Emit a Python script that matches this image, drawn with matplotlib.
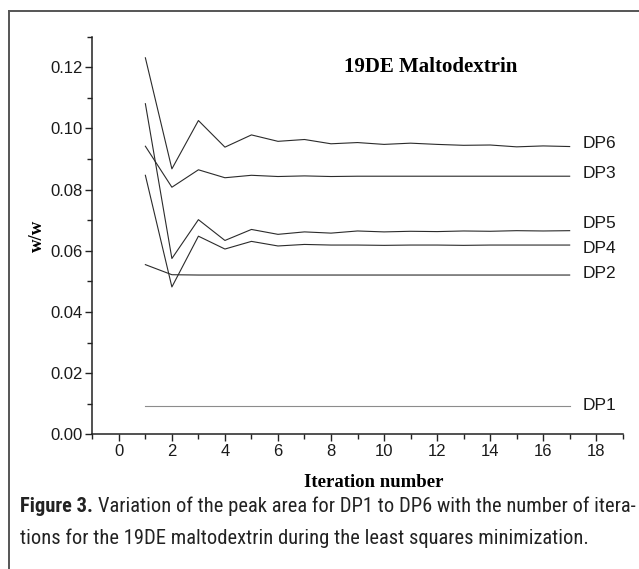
import matplotlib
matplotlib.use("Agg")
import matplotlib.pyplot as plt
from matplotlib import font_manager as fm
from matplotlib.ticker import MultipleLocator, FormatStrFormatter
from matplotlib.lines import Line2D

# Data
iterations = list(range(1, 18))

dp1 = [0.0093] * 17
dp2 = [0.0555, 0.0522, 0.0521, 0.0521, 0.0521, 0.0521, 0.0521, 0.0521, 0.0521,
       0.0521, 0.0521, 0.0521, 0.0521, 0.0521, 0.0521, 0.0521, 0.0521]
dp3 = [0.0942, 0.0808, 0.0865, 0.0839, 0.0847, 0.0843, 0.0845, 0.0843, 0.0844,
       0.0844, 0.0844, 0.0844, 0.0844, 0.0844, 0.0844, 0.0844, 0.0844]
dp4 = [0.0847, 0.0482, 0.0648, 0.0606, 0.0631, 0.0616, 0.0621, 0.0619, 0.0619,
       0.0618, 0.0619, 0.0619, 0.0618, 0.0619, 0.0619, 0.0619, 0.0619]
dp5 = [0.1081, 0.0575, 0.0702, 0.0634, 0.0670, 0.0654, 0.0662, 0.0658, 0.0665,
       0.0662, 0.0664, 0.0663, 0.0665, 0.0664, 0.0666, 0.0665, 0.0666]
dp6 = [0.1231, 0.0868, 0.1026, 0.0939, 0.0979, 0.0958, 0.0964, 0.0950, 0.0954,
       0.0948, 0.0952, 0.0948, 0.0945, 0.0946, 0.0940, 0.0943, 0.0941]

series = [dp1, dp2, dp3, dp4, dp5, dp6]
names = ["DP1", "DP2", "DP3", "DP4", "DP5", "DP6"]

# Label placement (y, in data units) next to line ends
label_y = [0.0095, 0.0527, 0.0853, 0.0609, 0.0691, 0.0950]

caption_1 = "Variation of the peak area for DP1 to DP6 with the number of itera-"
caption_2 = "tions for the 19DE maltodextrin during the least squares minimization."

# Pick a narrow font for the caption if one is installed
available = {f.name for f in fm.fontManager.ttflist}
cap_family, cap_stretch = "Roboto", "normal"
for nm in ["Liberation Sans Narrow", "Roboto Condensed", "Open Sans Condensed"]:
    if nm in available:
        cap_family = nm
        break
else:
    if any(f.name == "DejaVu Sans" and f.stretch == "condensed"
           for f in fm.fontManager.ttflist):
        cap_family, cap_stretch = "DejaVu Sans", "condensed"

# Figure
fig = plt.figure(figsize=(6.39, 5.69), dpi=100)
ax = fig.add_axes([0.1445, 0.2365, 0.830, 0.699])

for vals, name in zip(series, names):
    col = "#8c8c8c" if name == "DP1" else "#2b2b2b"
    ax.plot(iterations, vals, color=col, linewidth=0.8)

for name, y in zip(names, label_y):
    ax.text(17.5, y, name, fontsize=12.5, family="Liberation Sans",
            va="center", ha="left", color="#1a1a1a")

ax.set_xlim(-1, 19)
ax.set_ylim(0, 0.13)

ax.xaxis.set_major_locator(MultipleLocator(2))
ax.xaxis.set_minor_locator(MultipleLocator(1))
ax.yaxis.set_major_locator(MultipleLocator(0.02))
ax.yaxis.set_minor_locator(MultipleLocator(0.01))
ax.yaxis.set_major_formatter(FormatStrFormatter("%.2f"))

for sp in ["top", "right"]:
    ax.spines[sp].set_visible(False)
for sp in ["left", "bottom"]:
    ax.spines[sp].set_linewidth(1.1)
    ax.spines[sp].set_color("#222222")

ax.tick_params(which="major", direction="out", length=5, width=1,
               color="#222222", labelsize=12, pad=2)
ax.tick_params(which="minor", direction="out", length=3.5, width=1,
               color="#222222")
for lab in ax.get_xticklabels() + ax.get_yticklabels():
    lab.set_family("Liberation Sans")
    lab.set_color("#1a1a1a")

ax.set_xlabel("Iteration number", fontsize=13.5, family="Liberation Serif",
              fontweight="bold")
ax.xaxis.set_label_coords(0.531, -0.100)
ax.set_ylabel("w/w", fontsize=13.5, family="Liberation Serif",
              fontweight="bold")
ax.yaxis.set_label_coords(-0.087, 0.5)

ax.text(0.6386, 0.925, "19DE Maltodextrin", transform=ax.transAxes,
        fontsize=15, family="Liberation Serif", fontweight="bold",
        ha="center", va="center")

# Caption: fit the first line between x=20 and x=632 px
fig.canvas.draw()
renderer = fig.canvas.get_renderer()
size = 15
t_bold = fig.text(20 / 639, 1 - 506 / 569, "Figure 3. ", fontsize=size,
                  family=cap_family, fontstretch=cap_stretch,
                  fontweight="bold", color="#222222", va="center")
t_rest = fig.text(0, 1 - 506 / 569, caption_1, fontsize=size,
                  family=cap_family, fontstretch=cap_stretch,
                  color="#222222", va="center")
w = (t_bold.get_window_extent(renderer).width
     + t_rest.get_window_extent(renderer).width)
size = size * 612 / w
t_bold.set_fontsize(size)
t_rest.set_fontsize(size)
wb = t_bold.get_window_extent(renderer).width
t_rest.set_x((20 + wb) / 639)
fig.text(20 / 639, 1 - 538 / 569, caption_2, fontsize=size,
         family=cap_family, fontstretch=cap_stretch, color="#222222",
         va="center")

# Frame lines around the figure panel
fig.add_artist(Line2D([9 / 639, 9 / 639], [0, 1 - 11 / 569],
                      transform=fig.transFigure, color="#555555", linewidth=1.4))
fig.add_artist(Line2D([9 / 639, 1], [1 - 11 / 569, 1 - 11 / 569],
                      transform=fig.transFigure, color="#555555", linewidth=1.4))

fig.savefig("out.png", dpi=100)
